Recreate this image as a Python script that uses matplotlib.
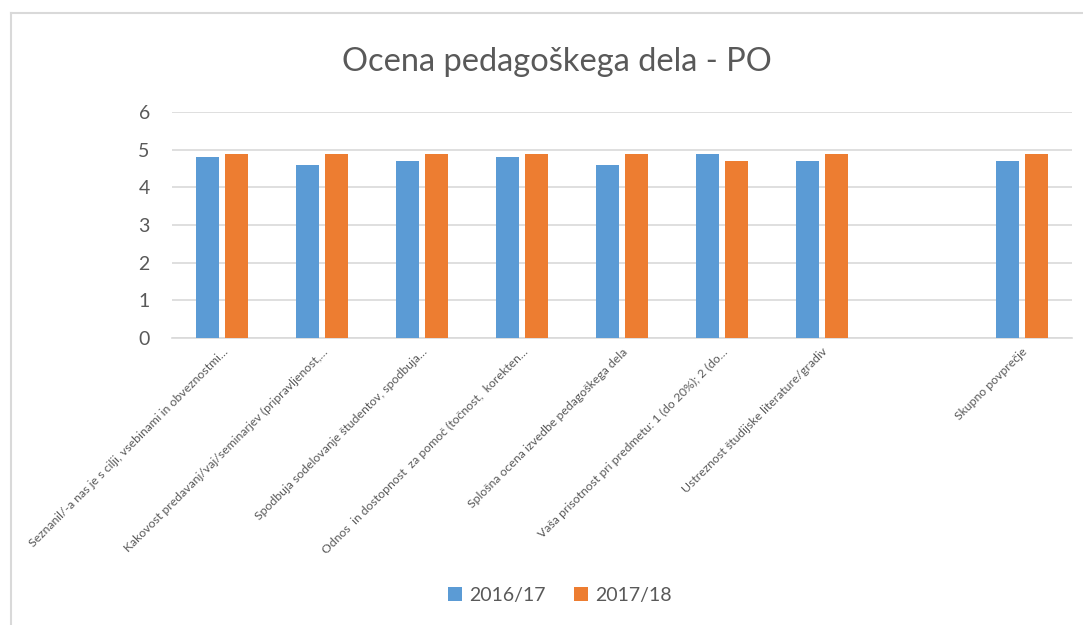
import numpy as np
import matplotlib.pyplot as plt
from matplotlib.patches import Patch
from matplotlib.lines import Line2D

# Categories (the 8th slot is empty in the source sheet)
categories = [
    'Seznanil/-a nas je s cilji, vsebinami in obveznostmi…',
    'Kakovost predavanj/vaj/seminarjev (pripravljenost,…',
    'Spodbuja sodelovanje študentov, spodbuja…',
    'Odnos  in dostopnost  za pomoč (točnost,  korekten…',
    'Splošna ocena izvedbe pedagoškega dela',
    'Vaša prisotnost pri predmetu: 1 (do 20%); 2 (do…',
    'Ustreznost študijske literature/gradiv',
    '',
    'Skupno povprečje',
]
series_names = ['2016/17', '2017/18']
values_2016 = [4.8, 4.6, 4.7, 4.8, 4.6, 4.9, 4.7, np.nan, 4.7]
values_2017 = [4.9, 4.9, 4.9, 4.9, 4.9, 4.7, 4.9, np.nan, 4.9]

blue = '#5B9BD5'
orange = '#ED7D31'
grey_text = '#595959'
grid_col = '#D9D9D9'

plt.rcParams['font.family'] = ['Lato', 'DejaVu Sans']

fig = plt.figure(figsize=(10.83, 6.25), dpi=100)
ax = fig.add_axes([0.1588, 0.4597, 0.8310, 0.3606])

x = np.arange(len(categories))
w = 0.225
ax.bar(x - 0.145, values_2016, w, color=blue, zorder=3)
ax.bar(x + 0.145, values_2017, w, color=orange, zorder=3)

ax.set_xlim(-0.5, len(categories) - 0.5)
ax.set_ylim(0, 6)
ax.set_yticks(range(0, 7))
ax.yaxis.grid(True, color=grid_col, linewidth=1.2, zorder=0)
for s in ['top', 'right', 'left']:
    ax.spines[s].set_visible(False)
ax.spines['bottom'].set_color(grid_col)
ax.spines['bottom'].set_linewidth(1.2)
ax.tick_params(axis='y', length=0, pad=16, labelsize=14, labelcolor=grey_text)
ax.tick_params(axis='x', length=0, pad=6)
ax.set_xticks(x)
ax.set_xticklabels(categories, rotation=45, ha='right', rotation_mode='anchor',
                   fontsize=8.8, color=grey_text)

fig.text(0.514, 0.901, 'Ocena pedagoškega dela - PO', ha='center', va='center',
         fontsize=23.5, color=grey_text)

handles = [Patch(facecolor=blue), Patch(facecolor=orange)]
fig.legend(handles, series_names, loc='center', bbox_to_anchor=(0.517, 0.048),
           ncol=2, frameon=False, fontsize=14, handlelength=0.7, handleheight=0.7,
           handletextpad=0.35, columnspacing=1.5, labelcolor=grey_text)

# chart frame (only the left and top edges are visible in the crop)
fig.add_artist(Line2D([10.5 / 1083, 10.5 / 1083], [0, 1 - 13 / 625],
                      transform=fig.transFigure, color='#D9D9D9', linewidth=1.5))
fig.add_artist(Line2D([10.5 / 1083, 1], [1 - 13 / 625, 1 - 13 / 625],
                      transform=fig.transFigure, color='#D9D9D9', linewidth=1.5))

fig.savefig('out.png', dpi=100, facecolor='white')
